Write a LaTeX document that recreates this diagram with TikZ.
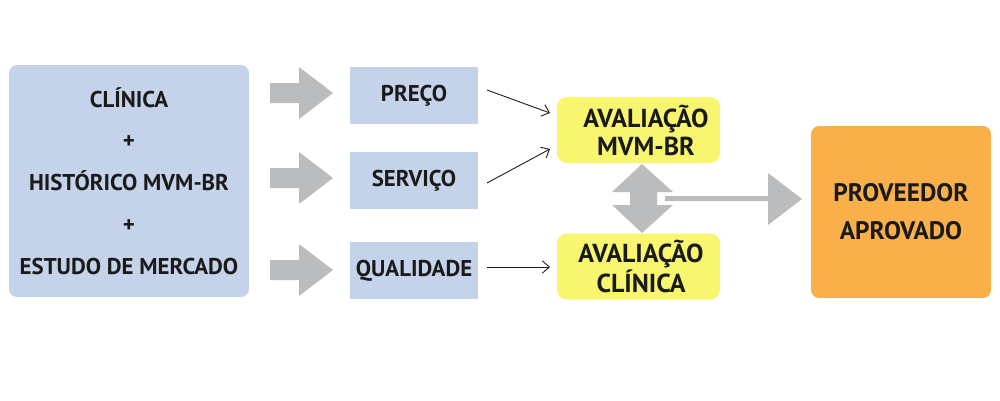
\documentclass[tikz,border=0pt]{standalone}
\usepackage{fontspec}
\setmainfont{PT Sans}
\usetikzlibrary{arrows.meta}
\definecolor{boxblue}{HTML}{C5D3EA}
\definecolor{boxyellow}{HTML}{F7F66E}
\definecolor{boxorange}{HTML}{F9B04A}
\definecolor{arrowgray}{HTML}{BBBCBE}
\definecolor{txt}{HTML}{1A1A1A}
\begin{document}
\begin{tikzpicture}[x=0.02cm,y=-0.02cm,
  bluebox/.style={fill=boxblue,draw=none,inner sep=0pt,align=center,text=txt,font=\bfseries\fontsize{13}{23.8}\selectfont},
  yellowbox/.style={fill=boxyellow,draw=none,rounded corners=0.2cm,inner sep=0pt,align=center,text=txt,minimum width=3.26cm,minimum height=1.32cm,font=\bfseries\fontsize{14.8}{15.9}\selectfont},
  orangebox/.style={fill=boxorange,draw=none,rounded corners=0.16cm,inner sep=0pt,align=center,text=txt,font=\bfseries\fontsize{14.4}{21.5}\selectfont},
  thinarrow/.style={draw=txt,line width=0.5pt,-{Straight Barb[length=4pt,width=7pt]}},
  blockarrow/.style={fill=arrowgray,draw=none}]
\useasboundingbox (0,0) rectangle (1000,400);
\fill[white] (0,0) rectangle (1000,400);

\node[bluebox,rounded corners=0.16cm,minimum width=4.8cm,minimum height=4.64cm] (src) at (129,181)
  {CLÍNICA\\+\\HISTÓRICO MVM-BR\\+\\ESTUDO DE MERCADO};

\node[bluebox,minimum width=2.56cm,minimum height=1.14cm] (preco) at (414,95.5) {PREÇO};
\node[bluebox,minimum width=2.56cm,minimum height=1.14cm] (servico) at (414,180.5) {SERVIÇO};
\node[bluebox,minimum width=2.56cm,minimum height=1.14cm] (qualidade) at (414,270.5) {QUALIDADE};

\node[yellowbox] (mvm) at (638.5,130) {\hspace*{3mm}AVALIAÇÃO\\\hspace*{3mm}MVM-BR};
\node[yellowbox] (clin) at (638.5,266.5) {\hspace*{1mm}AVALIAÇÃO\\\hspace*{1mm}CLÍNICA};

\node[orangebox,minimum width=3.6cm,minimum height=3.44cm] (prov) at (901,212) {PROVEEDOR\\APROVADO};

% block arrows from source to criteria
\foreach \yy in {93,178,270}{
  \fill[blockarrow] (270,\yy-10) -- (299,\yy-10) -- (299,\yy-26) -- (333,\yy) -- (299,\yy+26) -- (299,\yy+10) -- (270,\yy+10) -- cycle;
}

% thin arrows
\coordinate (a1s) at (487,90);
\coordinate (a1e) at (550,113);
\coordinate (a2s) at (487,183);
\coordinate (a2e) at (550,149);
\coordinate (a3s) at (487,267);
\coordinate (a3e) at (550,267);
\draw[thinarrow] (a1s) -- (a1e);
\draw[thinarrow] (a2s) -- (a2e);
\draw[thinarrow] (a3s) -- (a3e);

% double vertical arrow
\fill[blockarrow] (642,164) -- (673,192) -- (657,192) -- (657,205) -- (673,205) -- (642,233) -- (612,205) -- (630,205) -- (630,192) -- (612,192) -- cycle;

% horizontal arrow to approved
\fill[blockarrow] (665,196) -- (768,196) -- (768,173) -- (802,199) -- (768,225) -- (768,201) -- (665,201) -- cycle;
\end{tikzpicture}
\end{document}
